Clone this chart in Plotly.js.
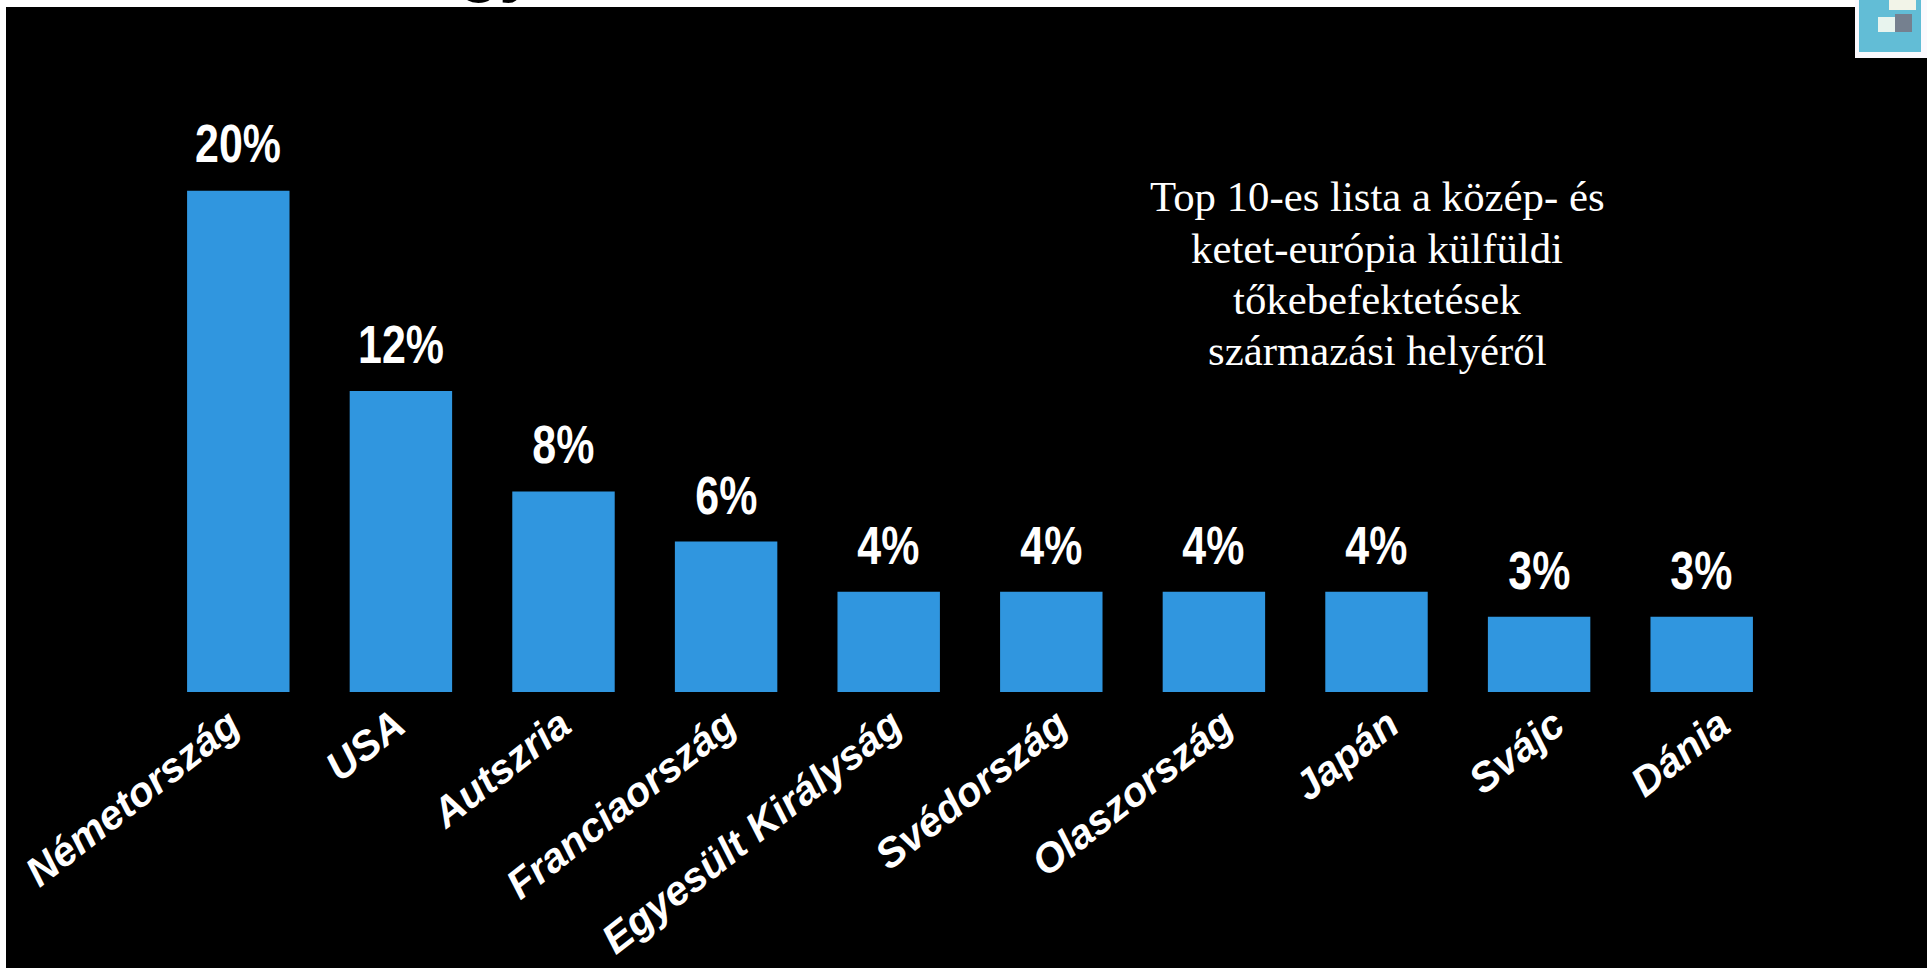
<!DOCTYPE html>
<html><head><meta charset="utf-8">
<script src="https://cdn.plot.ly/plotly-3.0.1.min.js"></script>
<style>html,body{margin:0;padding:0;background:#fff;overflow:hidden}#c{width:1927px;height:968px}</style>
</head><body><div id="c"></div>
<script>
const categories = ["Németország","USA","Autszria","Franciaország","Egyesült Királyság","Svédország","Olaszország","Japán","Svájc","Dánia"];
const shares = [20,12,8,6,4,4,4,4,3,3];
const noteLines = ["Top 10-es lista a közép- és","ketet-európia külfüldi","tőkebefektetések","származási helyéről"];
const W=1927,H=968;
const L=157,R=1783,T=190.5,B=692;
const px=(x)=>x/W, py=(y)=>1-y/H;
const rect=(x0,y0,x1,y1,c,layer)=>({type:'rect',xref:'paper',yref:'paper',x0:px(x0),x1:px(x1),y0:py(y1),y1:py(y0),fillcolor:c,line:{width:0},layer:layer||'below'});
const ann=[];
categories.forEach((c,i)=>ann.push({x:c,y:shares[i],xref:'x',yref:'y',text:shares[i]+'%',showarrow:false,yanchor:'bottom',yshift:15,
  font:{family:'"Liberation Sans",Arial,sans-serif',size:53,color:'#fff',weight:700}}));
noteLines.forEach((t,i)=>ann.push({xref:'paper',yref:'paper',x:px(1377),y:py(197+i*51.3),text:t,showarrow:false,xanchor:'center',yanchor:'middle',
  font:{family:'"Liberation Serif",serif',size:42.8,color:'#fff'}}));
ann.push({xref:'paper',yref:'paper',x:px(457),y:py(-34),text:'gy',showarrow:false,xanchor:'left',yanchor:'middle',
  font:{family:'"Liberation Sans",Arial,sans-serif',size:66,color:'#000',weight:700}});
const layout={width:W,height:H,showlegend:false,paper_bgcolor:'#fff',plot_bgcolor:'rgba(0,0,0,0)',
 margin:{l:0,r:0,t:0,b:0,pad:0},
 bargap:0.37,
 xaxis:{type:'category',domain:[px(L),px(R)],range:[-0.5,9.5],showgrid:false,zeroline:false,showline:false,ticks:'',showticklabels:false},
 xaxis2:{type:'category',domain:[px(147),px(1803)],range:[-0.5,9.5],anchor:'y',showgrid:false,zeroline:false,showline:false,ticks:'',tickangle:-38,automargin:false,
   tickfont:{family:'"Liberation Sans",Arial,sans-serif',size:41,color:'#fff',weight:700,style:'italic'}},
 yaxis:{domain:[py(B),py(T)],range:[0,20],visible:false,showgrid:false,zeroline:false},
 shapes:[rect(6,7,W,H,'#000'),rect(1855,0,W,58,'#fbf9fd'),rect(1859,0,1921,52,'#62bdd6'),rect(1878,17,1895,32,'#e8f4ee'),rect(1895,14,1912,32,'#75808f'),rect(1889,0,1916,10,'#f2f4e8')],
 annotations:ann};
Plotly.newPlot('c',[
 {type:'bar',x:categories,y:shares,marker:{color:'#3096df',line:{width:0}},hoverinfo:'x+y',cliponaxis:false},
 {type:'scatter',mode:'markers',x:categories,y:shares,xaxis:'x2',yaxis:'y',marker:{opacity:0,size:1},hoverinfo:'skip'}
],layout,{displayModeBar:false,staticPlot:true}).then(()=>{
  document.querySelectorAll('.annotation-text').forEach(t=>{
    if(/%$/.test(t.textContent)){t.setAttribute('lengthAdjust','spacingAndGlyphs');t.setAttribute('textLength',t.getComputedTextLength()*0.81);}
  });
});
</script></body></html>
